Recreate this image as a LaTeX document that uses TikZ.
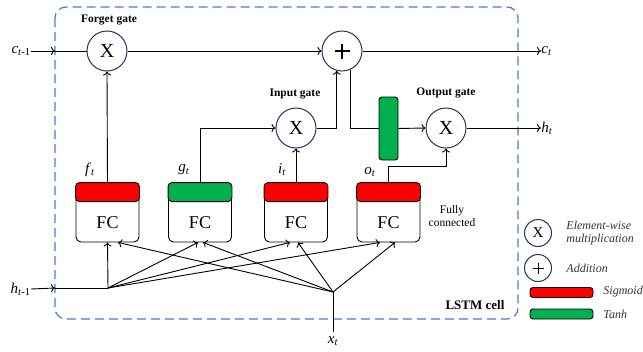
\documentclass[tikz,border=0pt]{standalone}
\usepackage{fontspec}
\setmainfont{Liberation Serif}
\usetikzlibrary{arrows.meta,calc}
\definecolor{cellblue}{HTML}{4A7BD0}
\definecolor{ringnavy}{HTML}{22355F}
\definecolor{sigred}{HTML}{FF0000}
\definecolor{tanhgreen}{HTML}{00B04F}
\definecolor{legtext}{HTML}{333333}
\newcommand\vsub[2]{\textit{#1}\textsubscript{#2}}
\begin{document}
\begin{tikzpicture}[x=1pt,y=-1pt,
  line width=0.9pt,
  arr/.style={-{To[length=4pt,width=8pt]}},
  op/.style={circle,draw=ringnavy,line width=1pt,fill=white,minimum size=40pt,inner sep=0pt,font=\fontsize{20}{20}\selectfont},
  legop/.style={circle,draw=ringnavy,line width=1pt,fill=white,minimum size=27pt,inner sep=0pt,font=\fontsize{15}{15}\selectfont},
  plussign/.style={path picture={
      \draw[black,line width=#1/6.5,line cap=butt]
        ([xshift=-#1]path picture bounding box.center) -- ([xshift=#1]path picture bounding box.center)
        ([yshift=-#1]path picture bounding box.center) -- ([yshift=#1]path picture bounding box.center);}},
  fcbox/.style={draw,rounded corners=5pt,fill=white,minimum width=63pt,minimum height=59pt,inner sep=0pt},
  fctext/.style={font=\fontsize{18}{18}\selectfont,inner sep=0pt},
  gatelbl/.style={font=\fontsize{11.5}{11.5}\selectfont\bfseries,inner sep=0pt},
  varlbl/.style={font=\fontsize{15}{15}\selectfont,inner sep=0pt},
  legtxt/.style={font=\fontsize{12}{13}\selectfont\itshape,text=legtext,inner sep=0pt,anchor=west,align=left},
]
\useasboundingbox (0,0) rectangle (643,351);

% LSTM cell boundary
\draw[cellblue,line width=1.2pt,dash pattern=on 9pt off 5pt,rounded corners=11pt]
  (55,7) rectangle (518,319);
\node[font=\fontsize{13}{13}\selectfont\bfseries,inner sep=0pt] (celllbl) at (475,305) {LSTM cell};

% pointwise operators
\node[op] (fx) at (107,51) {X};
\node[op,plussign=7.5pt] (plus) at (342,51) {};
\node[op] (ix) at (296,128) {X};
\node[op] (ox) at (446,128) {X};
\node[draw,fill=tanhgreen,rounded corners=3pt,minimum width=19pt,minimum height=63pt,inner sep=0pt] (tanh) at (388.5,128.5) {};

\node[gatelbl] (fglbl) at (109,20) {Forget gate};
\node[gatelbl] (iglbl) at (295,94) {Input gate};
\node[gatelbl] (oglbl) at (446,93) {Output gate};

% fully connected layers
\foreach \n/\x/\c in {fc1/107.5/sigred, fc2/200/tanhgreen, fc3/296/sigred, fc4/388.5/sigred}{
  \node[fcbox] (\n) at (\x,212.5) {};
  \draw[fill=\c,rounded corners=4pt] (\n.north west) rectangle ([yshift=-19pt]\n.north east);
  \node[fctext] (\n t) at ([yshift=-10pt]\n.center) {FC};
}
\node[font=\fontsize{11.5}{13.5}\selectfont,align=center,inner sep=0pt] (fclbl) at (452,216) {Fully\\connected};

% gate output labels
\node[varlbl] (ft) at (90,170) {\vsub{f}{\textit{t}}};
\node[varlbl] (gt) at (184,170) {\vsub{g}{\textit{t}}};
\node[varlbl] (it) at (282,170) {\vsub{i}{\textit{t}}};
\node[varlbl] (ot) at (370,172) {\vsub{o}{\textit{t}}};

% inputs and outputs
\node[varlbl,anchor=east] (cin) at (31,51) {\vsub{c}{\textit{t}-1}};
\node[varlbl,anchor=east] (hin) at (31,289) {\vsub{h}{\textit{t}-1}};
\node[varlbl,anchor=west] (cout) at (541,51) {\vsub{c}{\textit{t}}};
\node[varlbl,anchor=west] (hout) at (541,128) {\vsub{h}{\textit{t}}};
\node[varlbl] (xin) at (333,341) {\vsub{x}{\textit{t}}};

\coordinate (cb) at (55,51);
\coordinate (hb) at (55,288);
\coordinate (hj) at (108,288);
\coordinate (xj) at (333,292);
\coordinate (xs) at (333,332);
\coordinate (oc) at (446,166);

% cell state path
\draw[arr] (cin.east) -- (cb);
\draw (cb) -- (fx.west);
\draw[arr] (fx) -- (plus);
\draw[arr] (plus.east) -- (cout.west);

% gate connections
\draw[arr] (fc1.north) -- (fx.south);
\draw[arr] (fc2.north) |- (ix.west);
\draw[arr] (fc3.north) -- (ix.south);
\draw[arr] (fc4.north) |- (oc) -- (ox.south);
\draw[arr] (ix.east) -| (plus.-105);
\draw (plus.-67) |- (tanh.west);
\draw[arr] (tanh.east) -- (ox.west);
\draw[arr] (ox.east) -- (hout.west);

% hidden state and input fan-out
\draw[arr] (hin.east) -- (hb);
\draw (hb) -- (hj);
\draw (xs) -- (xj);
\draw[arr] (hj) -- (fc1.south);
\draw[arr] (hj) -- ([xshift=-2pt]fc2.south);
\draw[arr] (hj) -- ([xshift=-6pt]fc3.south);
\draw[arr] (hj) -- ([xshift=-8.5pt]fc4.south);
\draw[arr] (xj) -- ([xshift=10.5pt]fc1.south);
\draw[arr] (xj) -- ([xshift=3pt]fc2.south);
\draw[arr] (xj) -- ([xshift=2pt]fc3.south);
\draw[arr] (xj) -- ([xshift=6.5pt]fc4.south);

% legend
\node[legop] (lgx) at (538,233) {X};
\node[legop,plussign=5.5pt] (lgp) at (538,268) {};
\node[legtxt] (lgxt) at (566,233) {Element-wise\\multiplication};
\node[legtxt] (lgpt) at (566,268) {Addition};
\node[draw,fill=sigred,rounded corners=3pt,minimum width=63pt,minimum height=10pt,inner sep=0pt] (lgs) at (561.5,292.5) {};
\node[draw,fill=tanhgreen,rounded corners=3pt,minimum width=63pt,minimum height=10pt,inner sep=0pt] (lgt) at (561.5,314) {};
\node[legtxt] (lgst) at (603,292) {Sigmoid};
\node[legtxt] (lgtt) at (603,314) {Tanh};
\end{tikzpicture}
\end{document}
